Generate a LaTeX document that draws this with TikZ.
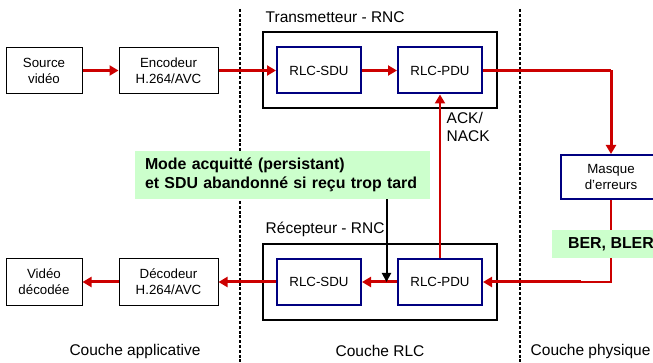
\documentclass[tikz,border=0pt]{standalone}
\usepackage{fontspec}
\setmainfont{Liberation Sans}
\usetikzlibrary{arrows.meta}

\definecolor{flowred}{RGB}{204,0,0}
\definecolor{navyline}{RGB}{0,0,128}
\definecolor{notegreen}{RGB}{204,255,204}

\begin{document}
\begin{tikzpicture}[x=1pt,y=-1pt,
  appbox/.style={draw=black,line width=1pt,fill=white,minimum width=76pt,minimum height=46pt,
    inner sep=0pt,align=center,font=\fontsize{13.3}{16}\selectfont},
  codecbox/.style={appbox,minimum width=99pt},
  rlcbox/.style={draw=navyline,line width=2pt,fill=white,minimum width=84pt,minimum height=46pt,
    inner sep=0pt,font=\fontsize{13.3}{16}\selectfont},
  entitybox/.style={draw=black,line width=2.7pt,minimum width=234pt,minimum height=76pt,inner sep=0pt},
  notebox/.style={fill=notegreen,inner sep=0pt,font=\bfseries\fontsize{15.9}{19}\selectfont},
  caption/.style={inner sep=0pt,font=\fontsize{15.5}{18}\selectfont},
  flow/.style={draw=flowred,line width=3pt,-{Triangle[length=9pt,width=10pt]}},
  thinflow/.style={draw=flowred,line width=2.2pt},
  layersep/.style={line width=2.2pt,dash pattern=on 3pt off 1.8pt}]

\useasboundingbox (0,0) rectangle (653,363);
\clip (0,0) rectangle (653,363);

% layer boundaries
\coordinate (sepA top) at (240,9);
\coordinate (sepA bot) at (240,363);
\coordinate (sepB top) at (520,9);
\coordinate (sepB bot) at (520,363);
\draw[layersep] (sepA top) -- (sepA bot);
\draw[layersep] (sepB top) -- (sepB bot);

% RNC entities
\node[entitybox] (tx) at (380,70) {};
\node[entitybox] (rx) at (380,282) {};
\node[caption,anchor=west] (txlabel) at (265.5,17) {Transmetteur - RNC};
\node[caption,anchor=west] (rxlabel) at (265.5,229) {Récepteur - RNC};

% application side
\node[appbox] (src) at (44,70.5) {Source\\vidéo};
\node[codecbox] (enc) at (168.5,70.5) {Encodeur\\H.264/AVC};
\node[appbox] (out) at (44,282) {Vidéo\\décodée};
\node[codecbox] (dec) at (168.5,282) {Décodeur\\H.264/AVC};

% RLC blocks
\node[rlcbox] (sdu1) at (319,70.5) {RLC-SDU};
\node[rlcbox] (pdu1) at (440,70.5) {RLC-PDU};
\node[rlcbox] (sdu2) at (319,282) {RLC-SDU};
\node[rlcbox] (pdu2) at (440,282) {RLC-PDU};

% physical layer: error mask and its feedback path
\coordinate (turn) at (611,70.5);
\coordinate (stat) at (611,240);
\coordinate (back) at (611,282);
\coordinate (join) at (581,282);
\draw[thinflow] (pdu1.east) -- (turn);
\draw[thinflow] (stat) -- (back) -- (join);
\node[draw=navyline,line width=2pt,fill=white,minimum width=101pt,minimum height=44pt,inner sep=0pt,
  align=center,font=\fontsize{13.3}{16}\selectfont] (mask) at (611,177) {Masque\\d’erreurs};
\draw[thinflow] (mask.south) -- (stat);

% transmit chain
\draw[flow] (src) -- (enc);
\draw[flow] (enc) -- (sdu1);
\draw[flow] (sdu1) -- (pdu1);
\draw[flow] (turn) -- (mask.north);

% receive chain
\draw[flow] (join) -- (pdu2.east);
\draw[flow] (pdu2) -- (sdu2);
\draw[flow] (sdu2) -- (dec);
\draw[flow] (dec) -- (out);

% acknowledgements
\draw[flow,line width=2.7pt] (pdu2.north) -- (pdu1.south);
\node[caption,anchor=north west,align=left,font=\fontsize{15.5}{18.5}\selectfont] (ack) at (446.5,112) {ACK/\\NACK};

% error statistics
\node[notebox,minimum width=118pt,minimum height=28pt] (ber) at (611,244) {BER, BLER};

% delivery policy note
\coordinate (drop) at (386.5,282);
\node[notebox,text width=275pt,inner xsep=10pt,minimum height=48pt,align=left] (mode) at (282.5,175)
  {Mode acquitté (persistant)\\et SDU abandonné si reçu trop tard};
\draw[line width=2pt,-{Triangle[length=9pt,width=9pt]}] (drop |- mode.south) -- (drop);

% layer names
\node[caption] (appl) at (135,351) {Couche applicative};
\node[caption] (rlcl) at (380,351) {Couche RLC};
\node[caption,anchor=west] (phyl) at (530.5,351) {Couche physique};
\end{tikzpicture}
\end{document}
